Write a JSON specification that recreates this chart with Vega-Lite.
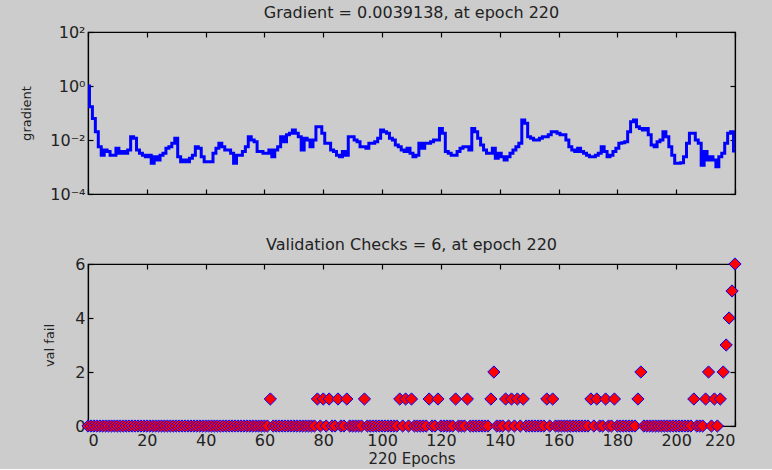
{
  "$schema": "https://vega.github.io/schema/vega-lite/v6.json",
  "background": "#cccccc",
  "padding": {"left": 20, "top": 4, "right": 32, "bottom": 2},
  "config": {
    "view": {"stroke": "#000000", "strokeWidth": 1.2},
    "font": "DejaVu Sans",
    "axis": {
      "grid": false,
      "domainColor": "#000000",
      "domainWidth": 1.2,
      "tickColor": "#000000",
      "tickSize": -5,
      "tickWidth": 1.2,
      "labelFont": "DejaVu Sans",
      "labelFontSize": 16,
      "labelColor": "#222222",
      "labelPadding": 8,
      "titleFont": "DejaVu Sans",
      "titleFontWeight": "normal",
      "titleColor": "#222222"
    },
    "title": {"font": "DejaVu Sans", "fontSize": 16, "fontWeight": "normal", "color": "#222222", "offset": 3}
  },
  "data": {"values": [
    {"epoch":0,"gradient":1.0,"valfail":0},
    {"epoch":1,"gradient":0.17,"valfail":0},
    {"epoch":2,"gradient":0.063,"valfail":0},
    {"epoch":3,"gradient":0.0204,"valfail":0},
    {"epoch":4,"gradient":0.00562,"valfail":0},
    {"epoch":5,"gradient":0.00275,"valfail":0},
    {"epoch":6,"gradient":0.00427,"valfail":0},
    {"epoch":7,"gradient":0.00372,"valfail":0},
    {"epoch":8,"gradient":0.00275,"valfail":0},
    {"epoch":9,"gradient":0.00275,"valfail":0},
    {"epoch":10,"gradient":0.0049,"valfail":0},
    {"epoch":11,"gradient":0.00324,"valfail":0},
    {"epoch":12,"gradient":0.00372,"valfail":0},
    {"epoch":13,"gradient":0.00324,"valfail":0},
    {"epoch":14,"gradient":0.00427,"valfail":0},
    {"epoch":15,"gradient":0.0132,"valfail":0},
    {"epoch":16,"gradient":0.0115,"valfail":0},
    {"epoch":17,"gradient":0.00427,"valfail":0},
    {"epoch":18,"gradient":0.00324,"valfail":0},
    {"epoch":19,"gradient":0.00275,"valfail":0},
    {"epoch":20,"gradient":0.0024,"valfail":0},
    {"epoch":21,"gradient":0.00275,"valfail":0},
    {"epoch":22,"gradient":0.00138,"valfail":0},
    {"epoch":23,"gradient":0.0024,"valfail":0},
    {"epoch":24,"gradient":0.00182,"valfail":0},
    {"epoch":25,"gradient":0.00275,"valfail":0},
    {"epoch":26,"gradient":0.00324,"valfail":0},
    {"epoch":27,"gradient":0.0049,"valfail":0},
    {"epoch":28,"gradient":0.00562,"valfail":0},
    {"epoch":29,"gradient":0.00759,"valfail":0},
    {"epoch":30,"gradient":0.0115,"valfail":0},
    {"epoch":31,"gradient":0.0024,"valfail":0},
    {"epoch":32,"gradient":0.00158,"valfail":0},
    {"epoch":33,"gradient":0.00182,"valfail":0},
    {"epoch":34,"gradient":0.00158,"valfail":0},
    {"epoch":35,"gradient":0.00209,"valfail":0},
    {"epoch":36,"gradient":0.00275,"valfail":0},
    {"epoch":37,"gradient":0.00562,"valfail":0},
    {"epoch":38,"gradient":0.0049,"valfail":0},
    {"epoch":39,"gradient":0.0024,"valfail":0},
    {"epoch":40,"gradient":0.00158,"valfail":0},
    {"epoch":41,"gradient":0.00158,"valfail":0},
    {"epoch":42,"gradient":0.00158,"valfail":0},
    {"epoch":43,"gradient":0.00324,"valfail":0},
    {"epoch":44,"gradient":0.0049,"valfail":0},
    {"epoch":45,"gradient":0.00759,"valfail":0},
    {"epoch":46,"gradient":0.00562,"valfail":0},
    {"epoch":47,"gradient":0.00427,"valfail":0},
    {"epoch":48,"gradient":0.00427,"valfail":0},
    {"epoch":49,"gradient":0.00324,"valfail":0},
    {"epoch":50,"gradient":0.00138,"valfail":0},
    {"epoch":51,"gradient":0.00275,"valfail":0},
    {"epoch":52,"gradient":0.00275,"valfail":0},
    {"epoch":53,"gradient":0.00372,"valfail":0},
    {"epoch":54,"gradient":0.00562,"valfail":0},
    {"epoch":55,"gradient":0.0132,"valfail":0},
    {"epoch":56,"gradient":0.01,"valfail":0},
    {"epoch":57,"gradient":0.0087,"valfail":0},
    {"epoch":58,"gradient":0.00372,"valfail":0},
    {"epoch":59,"gradient":0.00372,"valfail":0},
    {"epoch":60,"gradient":0.00324,"valfail":0},
    {"epoch":61,"gradient":0.00324,"valfail":0},
    {"epoch":62,"gradient":0.00427,"valfail":1},
    {"epoch":63,"gradient":0.0024,"valfail":0},
    {"epoch":64,"gradient":0.00427,"valfail":0},
    {"epoch":65,"gradient":0.00562,"valfail":0},
    {"epoch":66,"gradient":0.0132,"valfail":0},
    {"epoch":67,"gradient":0.0087,"valfail":0},
    {"epoch":68,"gradient":0.0155,"valfail":0},
    {"epoch":69,"gradient":0.0178,"valfail":0},
    {"epoch":70,"gradient":0.0234,"valfail":0},
    {"epoch":71,"gradient":0.0178,"valfail":0},
    {"epoch":72,"gradient":0.0132,"valfail":0},
    {"epoch":73,"gradient":0.00427,"valfail":0},
    {"epoch":74,"gradient":0.0115,"valfail":0},
    {"epoch":75,"gradient":0.01,"valfail":0},
    {"epoch":76,"gradient":0.00562,"valfail":0},
    {"epoch":77,"gradient":0.01,"valfail":0},
    {"epoch":78,"gradient":0.0309,"valfail":1},
    {"epoch":79,"gradient":0.0309,"valfail":0},
    {"epoch":80,"gradient":0.0178,"valfail":1},
    {"epoch":81,"gradient":0.00759,"valfail":0},
    {"epoch":82,"gradient":0.00759,"valfail":1},
    {"epoch":83,"gradient":0.00427,"valfail":0},
    {"epoch":84,"gradient":0.00372,"valfail":0},
    {"epoch":85,"gradient":0.00275,"valfail":1},
    {"epoch":86,"gradient":0.0024,"valfail":0},
    {"epoch":87,"gradient":0.00372,"valfail":0},
    {"epoch":88,"gradient":0.00275,"valfail":1},
    {"epoch":89,"gradient":0.0132,"valfail":0},
    {"epoch":90,"gradient":0.0132,"valfail":0},
    {"epoch":91,"gradient":0.01,"valfail":0},
    {"epoch":92,"gradient":0.0087,"valfail":0},
    {"epoch":93,"gradient":0.00562,"valfail":0},
    {"epoch":94,"gradient":0.00562,"valfail":1},
    {"epoch":95,"gradient":0.0049,"valfail":0},
    {"epoch":96,"gradient":0.00759,"valfail":0},
    {"epoch":97,"gradient":0.00759,"valfail":0},
    {"epoch":98,"gradient":0.0087,"valfail":0},
    {"epoch":99,"gradient":0.0115,"valfail":0},
    {"epoch":100,"gradient":0.0234,"valfail":0},
    {"epoch":101,"gradient":0.0204,"valfail":0},
    {"epoch":102,"gradient":0.0178,"valfail":0},
    {"epoch":103,"gradient":0.0115,"valfail":0},
    {"epoch":104,"gradient":0.01,"valfail":0},
    {"epoch":105,"gradient":0.00646,"valfail":0},
    {"epoch":106,"gradient":0.00562,"valfail":1},
    {"epoch":107,"gradient":0.00427,"valfail":0},
    {"epoch":108,"gradient":0.00372,"valfail":1},
    {"epoch":109,"gradient":0.0049,"valfail":0},
    {"epoch":110,"gradient":0.00324,"valfail":1},
    {"epoch":111,"gradient":0.0024,"valfail":0},
    {"epoch":112,"gradient":0.00275,"valfail":0},
    {"epoch":113,"gradient":0.00759,"valfail":0},
    {"epoch":114,"gradient":0.0049,"valfail":0},
    {"epoch":115,"gradient":0.00759,"valfail":0},
    {"epoch":116,"gradient":0.00759,"valfail":1},
    {"epoch":117,"gradient":0.0087,"valfail":0},
    {"epoch":118,"gradient":0.01,"valfail":0},
    {"epoch":119,"gradient":0.01,"valfail":1},
    {"epoch":120,"gradient":0.0269,"valfail":0},
    {"epoch":121,"gradient":0.0178,"valfail":0},
    {"epoch":122,"gradient":0.00372,"valfail":0},
    {"epoch":123,"gradient":0.00324,"valfail":0},
    {"epoch":124,"gradient":0.00275,"valfail":0},
    {"epoch":125,"gradient":0.00275,"valfail":1},
    {"epoch":126,"gradient":0.00372,"valfail":0},
    {"epoch":127,"gradient":0.0049,"valfail":0},
    {"epoch":128,"gradient":0.00562,"valfail":0},
    {"epoch":129,"gradient":0.00562,"valfail":1},
    {"epoch":130,"gradient":0.00427,"valfail":0},
    {"epoch":131,"gradient":0.0269,"valfail":0},
    {"epoch":132,"gradient":0.0204,"valfail":0},
    {"epoch":133,"gradient":0.0115,"valfail":0},
    {"epoch":134,"gradient":0.00646,"valfail":0},
    {"epoch":135,"gradient":0.00427,"valfail":0},
    {"epoch":136,"gradient":0.00324,"valfail":0},
    {"epoch":137,"gradient":0.00324,"valfail":1},
    {"epoch":138,"gradient":0.0049,"valfail":2},
    {"epoch":139,"gradient":0.00209,"valfail":0},
    {"epoch":140,"gradient":0.00324,"valfail":0},
    {"epoch":141,"gradient":0.0024,"valfail":0},
    {"epoch":142,"gradient":0.00182,"valfail":1},
    {"epoch":143,"gradient":0.0024,"valfail":0},
    {"epoch":144,"gradient":0.00324,"valfail":1},
    {"epoch":145,"gradient":0.00427,"valfail":0},
    {"epoch":146,"gradient":0.00562,"valfail":1},
    {"epoch":147,"gradient":0.00759,"valfail":0},
    {"epoch":148,"gradient":0.055,"valfail":1},
    {"epoch":149,"gradient":0.0417,"valfail":0},
    {"epoch":150,"gradient":0.0132,"valfail":0},
    {"epoch":151,"gradient":0.0115,"valfail":0},
    {"epoch":152,"gradient":0.01,"valfail":0},
    {"epoch":153,"gradient":0.01,"valfail":0},
    {"epoch":154,"gradient":0.0115,"valfail":0},
    {"epoch":155,"gradient":0.0132,"valfail":0},
    {"epoch":156,"gradient":0.0132,"valfail":1},
    {"epoch":157,"gradient":0.0155,"valfail":0},
    {"epoch":158,"gradient":0.0204,"valfail":1},
    {"epoch":159,"gradient":0.0204,"valfail":0},
    {"epoch":160,"gradient":0.0178,"valfail":0},
    {"epoch":161,"gradient":0.0155,"valfail":0},
    {"epoch":162,"gradient":0.0155,"valfail":0},
    {"epoch":163,"gradient":0.01,"valfail":0},
    {"epoch":164,"gradient":0.00562,"valfail":0},
    {"epoch":165,"gradient":0.00427,"valfail":0},
    {"epoch":166,"gradient":0.00372,"valfail":0},
    {"epoch":167,"gradient":0.0049,"valfail":0},
    {"epoch":168,"gradient":0.00372,"valfail":0},
    {"epoch":169,"gradient":0.00324,"valfail":0},
    {"epoch":170,"gradient":0.00275,"valfail":0},
    {"epoch":171,"gradient":0.0024,"valfail":1},
    {"epoch":172,"gradient":0.0024,"valfail":0},
    {"epoch":173,"gradient":0.00275,"valfail":1},
    {"epoch":174,"gradient":0.00324,"valfail":0},
    {"epoch":175,"gradient":0.00562,"valfail":0},
    {"epoch":176,"gradient":0.00372,"valfail":1},
    {"epoch":177,"gradient":0.0024,"valfail":0},
    {"epoch":178,"gradient":0.00275,"valfail":0},
    {"epoch":179,"gradient":0.00372,"valfail":1},
    {"epoch":180,"gradient":0.0049,"valfail":0},
    {"epoch":181,"gradient":0.00759,"valfail":0},
    {"epoch":182,"gradient":0.00794,"valfail":0},
    {"epoch":183,"gradient":0.0087,"valfail":0},
    {"epoch":184,"gradient":0.0204,"valfail":0},
    {"epoch":185,"gradient":0.0479,"valfail":0},
    {"epoch":186,"gradient":0.055,"valfail":0},
    {"epoch":187,"gradient":0.0309,"valfail":1},
    {"epoch":188,"gradient":0.0269,"valfail":2},
    {"epoch":189,"gradient":0.0234,"valfail":0},
    {"epoch":190,"gradient":0.0269,"valfail":0},
    {"epoch":191,"gradient":0.0155,"valfail":0},
    {"epoch":192,"gradient":0.00646,"valfail":0},
    {"epoch":193,"gradient":0.00562,"valfail":0},
    {"epoch":194,"gradient":0.0087,"valfail":0},
    {"epoch":195,"gradient":0.01,"valfail":0},
    {"epoch":196,"gradient":0.0204,"valfail":0},
    {"epoch":197,"gradient":0.0132,"valfail":0},
    {"epoch":198,"gradient":0.00562,"valfail":0},
    {"epoch":199,"gradient":0.00275,"valfail":0},
    {"epoch":200,"gradient":0.00138,"valfail":0},
    {"epoch":201,"gradient":0.00138,"valfail":0},
    {"epoch":202,"gradient":0.00145,"valfail":0},
    {"epoch":203,"gradient":0.0024,"valfail":0},
    {"epoch":204,"gradient":0.00759,"valfail":0},
    {"epoch":205,"gradient":0.0178,"valfail":0},
    {"epoch":206,"gradient":0.0178,"valfail":1},
    {"epoch":207,"gradient":0.01,"valfail":0},
    {"epoch":208,"gradient":0.00759,"valfail":0},
    {"epoch":209,"gradient":0.00117,"valfail":0},
    {"epoch":210,"gradient":0.00372,"valfail":1},
    {"epoch":211,"gradient":0.00182,"valfail":2},
    {"epoch":212,"gradient":0.0024,"valfail":0},
    {"epoch":213,"gradient":0.00182,"valfail":1},
    {"epoch":214,"gradient":0.00102,"valfail":0},
    {"epoch":215,"gradient":0.0024,"valfail":1},
    {"epoch":216,"gradient":0.00324,"valfail":2},
    {"epoch":217,"gradient":0.00759,"valfail":3},
    {"epoch":218,"gradient":0.0178,"valfail":4},
    {"epoch":219,"gradient":0.0204,"valfail":5},
    {"epoch":220,"gradient":0.0039138,"valfail":6}
  ]},
  "spacing": 33,
  "vconcat": [
    {
      "width": 647,
      "height": 162,
      "title": "Gradient = 0.0039138, at epoch 220",
      "layer": [
        {
          "mark": {"type": "line", "color": "#0000ff", "strokeWidth": 3, "interpolate": "step"},
          "encoding": {
            "x": {"field": "epoch", "type": "quantitative", "scale": {"domain": [0, 220], "nice": false},
                  "axis": {"values": [0,20,40,60,80,100,120,140,160,180,200,220], "labels": false, "title": null}},
            "y": {"field": "gradient", "type": "quantitative", "scale": {"type": "log", "domain": [0.0001, 100], "nice": false},
                  "axis": {"values": [0.0001, 0.01, 1, 100], "labelExpr": "datum.value >= 50 ? '10²' : datum.value >= 0.5 ? '10⁰' : datum.value >= 0.005 ? '10⁻²' : '10⁻⁴'",
                           "title": "gradient", "titleFontSize": 13, "titlePadding": 16}}
          }
        },
        {
          "mark": {"type": "line", "opacity": 0},
          "encoding": {
            "x": {"field": "epoch", "type": "quantitative", "scale": {"domain": [0, 220], "nice": false},
                  "axis": {"orient": "top", "values": [0,20,40,60,80,100,120,140,160,180,200,220], "labels": false, "title": null}},
            "y": {"field": "gradient", "type": "quantitative", "scale": {"type": "log", "domain": [0.0001, 100], "nice": false},
                  "axis": {"orient": "right", "values": [0.0001, 0.01, 1, 100], "labels": false, "title": null}}
          }
        }
      ],
      "resolve": {"axis": {"x": "independent", "y": "independent"}}
    },
    {
      "width": 647,
      "height": 162,
      "title": "Validation Checks = 6, at epoch 220",
      "layer": [
        {
          "mark": {"type": "point", "shape": "diamond", "filled": true, "fill": "#ff0000", "stroke": "#0000ff", "strokeWidth": 1, "size": 150, "opacity": 1},
          "encoding": {
            "x": {"field": "epoch", "type": "quantitative", "scale": {"domain": [0, 220], "nice": false},
                  "axis": {"values": [0,20,40,60,80,100,120,140,160,180,200,220], "title": "220 Epochs", "titleFontSize": 15, "titlePadding": 3, "labelPadding": 11}},
            "y": {"field": "valfail", "type": "quantitative", "scale": {"domain": [0, 6], "nice": false},
                  "axis": {"values": [0, 2, 4, 6], "title": "val fail", "titleFontSize": 13, "titlePadding": 18}}
          }
        },
        {
          "mark": {"type": "point", "opacity": 0},
          "encoding": {
            "x": {"field": "epoch", "type": "quantitative", "scale": {"domain": [0, 220], "nice": false},
                  "axis": {"orient": "top", "values": [0,20,40,60,80,100,120,140,160,180,200,220], "labels": false, "title": null}},
            "y": {"field": "valfail", "type": "quantitative", "scale": {"domain": [0, 6], "nice": false},
                  "axis": {"orient": "right", "values": [0, 2, 4, 6], "labels": false, "title": null}}
          }
        }
      ],
      "resolve": {"axis": {"x": "independent", "y": "independent"}}
    }
  ]
}
